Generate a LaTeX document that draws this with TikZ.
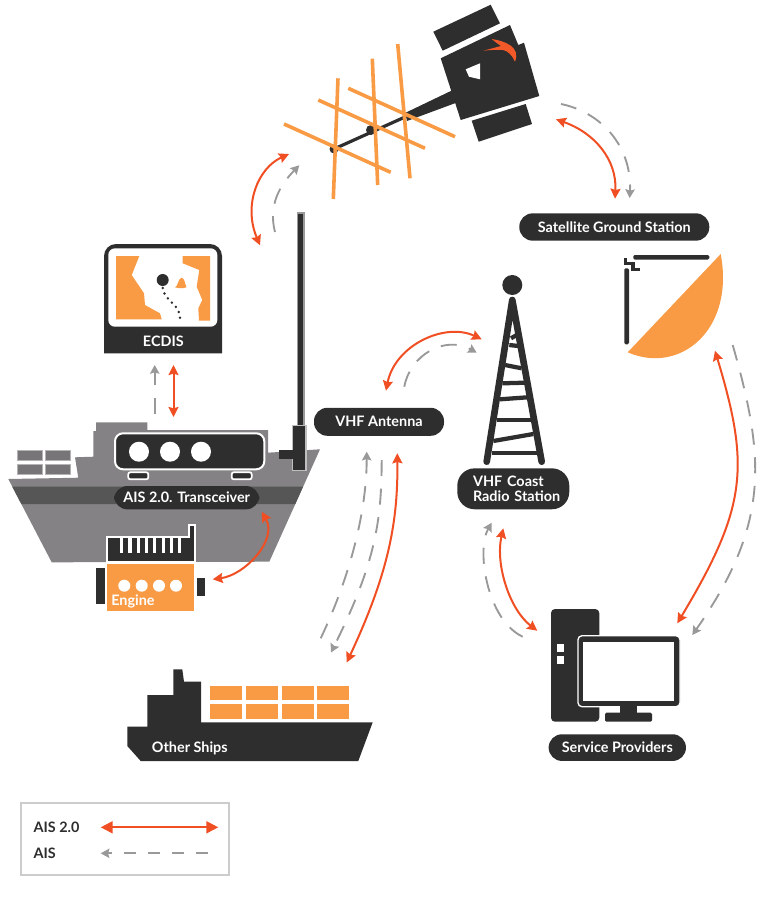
\documentclass[tikz,border=0pt]{standalone}
\usepackage{fontspec}
\setmainfont{Lato}
\usepackage{tikz}
\usetikzlibrary{arrows.meta}
\definecolor{ink}{HTML}{2E2E2E}
\definecolor{cargo}{HTML}{F99B45}
\definecolor{hull}{HTML}{848284}
\definecolor{band}{HTML}{565656}
\definecolor{signal}{HTML}{F04E23}
\definecolor{legacy}{HTML}{999999}
\newcommand{\tagfont}{\bfseries\fontsize{10.8}{11.5}\selectfont}
\tikzset{
	x=0.75pt,y=-0.75pt,
	aisnew/.style={{Stealth[length=7.5pt,width=7.5pt,inset=1pt]}-{Stealth[length=7.5pt,width=7.5pt,inset=1pt]},draw=signal,line width=1.5pt},
	aisold/.style={-{Stealth[length=6.5pt,width=7pt,inset=1pt]},draw=legacy,line width=1.4pt,dash pattern=on 12pt off 9.5pt},
	pill/.style={fill=ink,rounded corners=10pt,text=white,font=\tagfont,inner sep=0pt},
	rod/.style={draw=cargo,line width=2.7pt},
	rung/.style={draw=ink,line width=3.2pt},
	crate/.style={fill=cargo},
}
\begin{document}
\begin{tikzpicture}
	\useasboundingbox (0,0) rectangle (768,904);
	%Satellite
	\fill [ink] (440.7,58.3) -- (510,25) -- (518.3,45) -- (524,42.7) -- (539.3,96) -- (460.7,120) -- cycle;
	\fill [ink] (433.3,31.7) -- (490.7,4.7) -- (500,23.3) -- (442.7,50.7) -- cycle;
	\fill [ink] (471.7,120.7) -- (525.7,104) -- (532,124) -- (478.7,141.7) -- cycle;
	\fill [white] (465.7,69.3) -- (480,63.3) -- (480,79.3) -- (469,76.7) -- cycle;
	\fill [signal!85!cargo] (491.7,39) .. controls (505,41) and (521,47) .. (515,61.7) .. controls (512,55) and (508,51) .. (503,50) .. controls (497,49.5) and (490,50) .. (483.3,50.7) .. controls (490,49) and (497,47) .. (501,46) .. controls (498,44) and (494,41) .. (491.7,39) -- cycle;
	\draw [ink,line width=2.4pt] (334,149) -- (405,117);
	\fill [ink] (405,113) -- (455,89) -- (461,101) -- (407,121) -- cycle;
	\fill [ink] (334,149) circle (4.5) (371,130) circle (5);
	\draw [rod] (338,78.3) -- (333.3,199);
	\draw [rod] (372.3,58.7) -- (377.7,185);
	\draw [rod] (397.7,44) -- (410,178.3);
	\draw [rod] (284,124) -- (390.7,172.3);
	\draw [rod] (318.3,100) -- (425,148.3);
	\draw [rod] (348.3,88.3) -- (455,136.7);
	%Ground station dish
	\fill [cargo] (720.7,254) .. controls (735,330) and (680,375) .. (627.7,352.3) -- cycle;
	\fill [ink,rounded corners=1pt] (633.3,255) rectangle (709.3,259.5);
	\fill [ink,rounded corners=1pt] (624.3,268.3) rectangle (629,344.3);
	\draw [ink,line width=2.4pt] (625.7,257.5) -- (625.7,263.3) -- (633,263.3) -- (633,269.3) -- (640,269.3);
	%Coast tower
	\fill [ink] (512.3,285) circle (10);
	\draw [ink,line width=5pt,line cap=round,line join=round] (486.7,461.7) -- (512.3,300) -- (541.7,461.7);
	\draw [rung] (511,338.3) -- (516.7,335);
	\draw [rung] (509.3,345) -- (518.3,346);
	\draw [rung] (505,365) -- (521.7,368.3);
	\draw [rung] (502.3,383.3) -- (525,382.7);
	\draw [rung] (500,399.3) -- (527.7,397.3);
	\draw [rung] (496.7,420) -- (530.7,420);
	\draw [rung] (493.3,441) -- (533.3,434);
	\draw [rung] (491.7,453.3) -- (538.3,453.3);
	%Mast
	\draw [fill=ink,draw=black!40,line width=0.8pt] (297.7,213) rectangle (304,430);
	%Ship
	\fill [hull] (8.3,479) -- (78.3,477.7) -- (75,457.3) -- (93.3,456.7) -- (93.3,431) -- (96,431) -- (96,422.3) -- (147.3,422.3) -- (147.3,430) -- (268,430) -- (268,452.7) -- (320,449.3) -- (269.3,561.7) -- (51.7,562.3) -- cycle;
	\fill [band] (12.3,486.7) -- (303,486.7) -- (295.3,504) -- (21.3,504) -- cycle;
	\foreach \cx in {17.7,45.3}
		\foreach \cy in {450,464}
			\draw [fill=hull!90!black,draw=hull!60!white,line width=0.6pt] (\cx,\cy) rectangle ++(24.7,10.3);
	\draw [fill=ink,draw=black!25,line width=0.8pt] (292.7,425.7) rectangle (306,470.7);
	\fill [ink] (278.7,450) rectangle (292.7,459.3);
	\draw [fill=ink,draw=white,line width=1.5pt,rounded corners=6pt] (115,433.3) rectangle (264.3,469.3);
	\foreach \dx in {139,170,201}
		\fill [white] (\dx,451.7) circle (10);
	\draw [fill=ink,draw=white,line width=1.3pt,rounded corners=1.5pt] (128.3,472.3) rectangle (148.3,479.3);
	\draw [fill=ink,draw=white,line width=1.3pt,rounded corners=1.5pt] (231.7,472.3) rectangle (251.7,479.3);
	\node (transceiver) [pill,minimum width=108.9pt,minimum height=17.5pt] at (186.7,497.7) {AIS 2.0. Transceiver};
	%Engine
	\draw [fill=ink,draw=white,line width=1.5pt] (107.3,561.7) -- (107.3,537.3) -- (189.3,537.3) -- (189.3,525) -- (195,525) -- (195,561.7) -- cycle;
	\foreach \fx in {0,...,7}
		\fill [white] (120+\fx*8.3,537.3) rectangle ++(3.2,15.4);
	\fill [cargo] (107.3,564.3) rectangle (194.3,611);
	\foreach \ex in {124.3,141.7,159,176}
		\fill [white] (\ex,585.7) circle (6);
	\fill [ink] (96,567.7) rectangle (104.7,604.3);
	\fill [ink] (196.7,577.7) rectangle (204.7,596);
	\node (engine) [text=white,font=\tagfont,inner sep=0pt] at (133,601.7) {Engine};
	%ECDIS
	\fill [ink,rounded corners=9pt] (104,353.3) [sharp corners] -- (104,300) [rounded corners=9pt] -- (104,244) -- (222,244) [sharp corners] -- (222,300) -- (222,353.3) -- cycle;
	\fill [white,rounded corners=5pt] (108.3,248.3) rectangle (217.3,326.7);
	\fill [cargo] (116,256) -- (139.3,256) -- (131.7,275) -- (144,293.3) -- (145,305) -- (160,313.3) -- (161.7,319.3) -- (116,319.3) -- cycle;
	\fill [cargo] (182.7,256) -- (210,256) -- (210,320.7) -- (199,320.7) -- (198.3,308.3) -- (202.3,300) -- (196.7,286.7) -- (199.3,270) -- (182.7,263.3) -- cycle;
	\fill [cargo] (175,287.3) .. controls (178,287) and (178,278) .. (181.7,277.7) .. controls (184.5,278) and (185,284) .. (186.5,287.3) .. controls (182,289) and (178,288) .. (175,287.3) -- cycle;
	\fill [ink] (162.7,280) circle (6);
	\draw [ink,line width=2pt,line cap=round,dash pattern=on 0pt off 4.4pt] (162.7,288) .. controls (165,303) and (182,303) .. (180,323);
	\node (ecdis) [text=white,font=\tagfont,inner sep=0pt] at (163.3,341) {ECDIS};
	%Labels
	\node (vhfant) [pill,minimum width=97.5pt,minimum height=21pt] at (379,421.8) {VHF Antenna};
	\node (ground) [pill,minimum width=142.5pt,minimum height=20.5pt] at (614.3,227) {Satellite Ground Station};
	\node (service) [pill,minimum width=103pt,minimum height=20pt] at (617.3,747.6) {Service Providers};
	\node (coast) [pill,text width=84pt,minimum height=30.7pt,rounded corners=13pt,align=left] at (513.3,488.8) {\hspace*{11.8pt}VHF Coast\\\hspace*{11.8pt}Radio Station};
	%Computer
	\fill [ink,rounded corners=3pt] (551,609) rectangle (599.3,721.7);
	\fill [white] (556.7,644) rectangle (564.3,652.3);
	\fill [white] (556.7,655.7) rectangle (564.3,663.7);
	\draw [fill=ink,draw=white,line width=1pt,rounded corners=3pt] (578,635.7) rectangle (680,706.7);
	\fill [white] (583.3,642) rectangle (674,700.7);
	\fill [ink] (620,706) rectangle (637.3,712.7);
	\fill [ink,rounded corners=1pt] (605,712.7) rectangle (652,721.7);
	%Other ships
	\fill [ink] (127.3,726.7) -- (147.3,726.7) -- (147.3,695) -- (173.3,695) -- (173.3,669.3) -- (182.3,669.3) -- (184,681.7) -- (201,681.7) -- (201,722.3) -- (372.7,722.3) -- (358.3,761) -- (140.7,761) -- (127.3,746) -- cycle;
	\foreach \gx in {210,245.8,281.5,317.2} {
		\fill [crate] (\gx,685.7) rectangle ++(32.2,14.3);
		\fill [crate] (\gx,704.3) rectangle ++(32.2,14.7);
	}
	\node (others) [text=white,font=\tagfont,inner sep=0pt,anchor=west] at (151.7,748.3) {Other Ships};
	%Arrows
	\coordinate (mastA) at (260,245.3);
	\coordinate (satA) at (289,154);
	\coordinate (mastB) at (275,232);
	\coordinate (satB) at (299.3,165.3);
	\draw [aisnew] (mastA) .. controls (243,205) and (258,168) .. (satA);
	\draw [aisold] (mastB) .. controls (268,205) and (280,185) .. (satB);
	\coordinate (satC) at (556,119.3);
	\coordinate (grdA) at (615,198.7);
	\coordinate (satD) at (561,104);
	\coordinate (grdB) at (629.7,198);
	\draw [aisnew] (satC) .. controls (595,133) and (617,160) .. (grdA);
	\draw [aisold] (satD) .. controls (600,112) and (632,145) .. (grdB);
	\coordinate (antA) at (386,390.7);
	\coordinate (twrA) at (481.7,339.3);
	\coordinate (antB) at (404.3,386.7);
	\coordinate (twrB) at (476.7,352.7);
	\draw [aisnew] (antA) .. controls (395,345) and (445,322) .. (twrA);
	\draw [aisold] (antB) .. controls (410,355) and (445,335) .. (twrB);
	\coordinate (antC) at (397.3,453.3);
	\coordinate (shpA) at (346.7,662.5);
	\coordinate (antD) at (366.7,451.7);
	\coordinate (shpB) at (320.7,638.3);
	\coordinate (antE) at (381.7,460);
	\coordinate (shpC) at (331,652.5);
	\draw [aisnew] (antC) .. controls (398,520) and (389.5,571) .. (shpA);
	\draw [aisold] (shpB) .. controls (348,581) and (366.7,515) .. (antD);
	\draw [aisold] (antE) .. controls (381.5,520) and (376,562) .. (shpC);
	\coordinate (twrC) at (503.3,528.3);
	\coordinate (srvA) at (537.3,630.7);
	\coordinate (twrD) at (491.7,522.7);
	\coordinate (srvB) at (522.7,636.7);
	\draw [aisnew] (twrC) .. controls (495,565) and (510,610) .. (srvA);
	\draw [aisold] (srvB) .. controls (487,620) and (476,550) .. (twrD);
	\coordinate (grdC) at (715,350.7);
	\coordinate (srvC) at (677.3,623.3);
	\coordinate (grdD) at (732.7,345);
	\coordinate (srvD) at (692.3,635);
	\draw [aisnew] (grdC) .. controls (750,466.7) and (747,507) .. (srvC);
	\draw [aisold] (grdD) .. controls (764.6,457) and (770.7,523) .. (srvD);
	\coordinate (ecdA) at (173.5,365);
	\coordinate (trxA) at (173.5,417);
	\coordinate (ecdB) at (154.7,365);
	\coordinate (trxB) at (154.7,414);
	\draw [aisnew] (trxA) -- (ecdA);
	\draw [aisold] (trxB) -- (ecdB);
	\coordinate (trxC) at (261.7,511.7);
	\coordinate (engA) at (212.7,579.3);
	\draw [aisnew] (engA) .. controls (245,575) and (278,540) .. (trxC);
	%Legend
	\draw [draw=black!20,line width=1.5pt] (21,803.3) rectangle (228.7,875.3);
	\node (newkey) [anchor=west,inner sep=0pt,text=ink,font=\tagfont] at (33.3,827.7) {AIS 2.0};
	\node (oldkey) [anchor=west,inner sep=0pt,text=ink,font=\tagfont] at (33.3,853.3) {AIS};
	\coordinate (newL) at (100.7,827.3);
	\coordinate (newR) at (218.3,827.3);
	\coordinate (oldL) at (100.7,853.3);
	\coordinate (oldR) at (207.7,853.3);
	\draw [aisnew,{Stealth[length=9pt,width=9pt,inset=0pt]}-{Stealth[length=9pt,width=9pt,inset=0pt]}] (newL) -- (newR);
	\draw [aisold,dash pattern=on 9pt off 9pt] (oldR) -- (oldL);
\end{tikzpicture}
\end{document}
